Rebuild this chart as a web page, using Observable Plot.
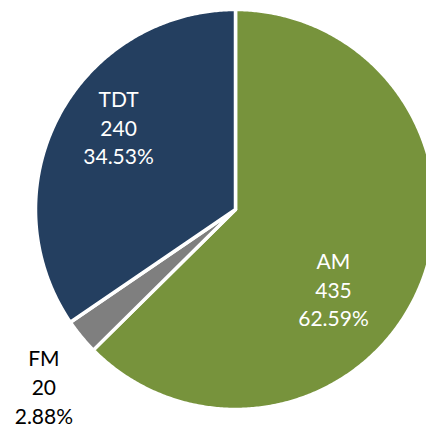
<!DOCTYPE html>
<html>
<head>
<meta charset="utf-8">
<script src="https://cdn.jsdelivr.net/npm/d3@7"></script>
<script src="https://cdn.jsdelivr.net/npm/@observablehq/plot@0.6"></script>
<style>
  html, body { margin: 0; padding: 0; background: #ffffff; }
  #chart { width: 426px; height: 428px; }
</style>
</head>
<body>
<div id="chart"></div>
<script>
// ---- data ----
const categories = ["AM", "FM", "TDT"];
const values = [435, 20, 240];
const colors = ["#77933c", "#7f7f7f", "#243f60"];

const total = d3.sum(values);
const arcs = d3.pie().sort(null).value(d => d.value)(
  categories.map((c, i) => ({key: c, value: values[i]}))
);

// polygon points for every slice (unit radius, angle 0 at top, clockwise)
const poly = [];
for (const a of arcs) {
  const k = a.data.key;
  poly.push({key: k, x: 0, y: 0});
  const n = Math.max(8, Math.ceil((a.endAngle - a.startAngle) / (2 * Math.PI) * 720));
  for (let i = 0; i <= n; i++) {
    const t = a.startAngle + (a.endAngle - a.startAngle) * i / n;
    poly.push({key: k, x: Math.sin(t), y: Math.cos(t)});
  }
}

// labels
const labelR = {AM: 0.65, FM: 1.3, TDT: 0.65};
const labels = arcs.map(a => {
  const m = (a.startAngle + a.endAngle) / 2;
  const r = labelR[a.data.key];
  return {
    key: a.data.key,
    x: r * Math.sin(m),
    y: r * Math.cos(m),
    text: `${a.data.key}\n${a.data.value}\n${(a.data.value / total * 100).toFixed(2)}%`
  };
});

const textStyle = {
  x: "x", y: "y", text: "text",
  fontFamily: "Lato, 'Open Sans', sans-serif",
  fontSize: 21,
  lineHeight: 1.36,
  textAnchor: "middle",
  lineAnchor: "middle"
};

const chart = Plot.plot({
  width: 426,
  height: 428,
  margin: 0,
  x: {domain: [-235 / 200, 191 / 200], axis: null},
  y: {domain: [-219 / 200, 209 / 200], axis: null},
  color: {domain: categories, range: colors},
  style: {background: "#ffffff"},
  marks: [
    Plot.line(poly, {
      x: "x", y: "y", z: "key", fill: "key",
      stroke: "#ffffff", strokeWidth: 3.5, curve: "linear-closed"
    }),
    Plot.text(labels.filter(d => d.key === "AM"), {...textStyle, fill: "#ffffff", dx: -22, dy: 29}),
    Plot.text(labels.filter(d => d.key === "TDT"), {...textStyle, fill: "#ffffff", dx: -2, dy: -22}),
    Plot.text(labels.filter(d => d.key === "FM"), {...textStyle, fill: "#000000", dx: 9, dy: 11})
  ]
});
document.getElementById("chart").appendChild(chart);
</script>
</body>
</html>
